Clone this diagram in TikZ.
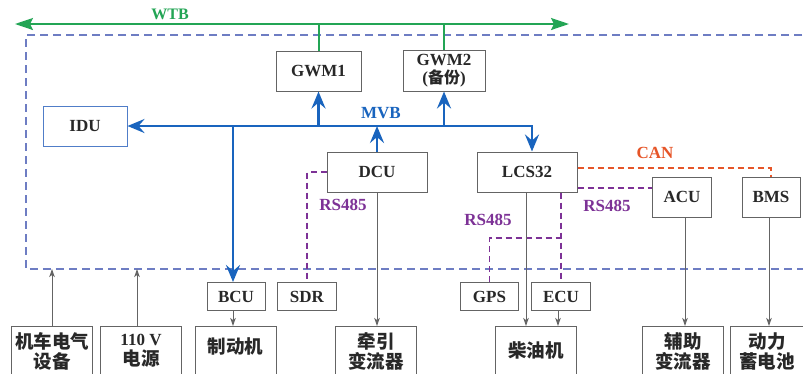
\documentclass[tikz,border=0pt]{standalone}
\usepackage{fontspec}
\setmainfont{Liberation Serif}
\newfontfamily\cjk{Noto Sans CJK SC}
\usetikzlibrary{arrows.meta}
\definecolor{wtbgreen}{RGB}{35,165,85}
\definecolor{mvbblue}{RGB}{25,100,190}
\definecolor{idublue}{RGB}{80,125,200}
\definecolor{frameblue}{RGB}{110,125,195}
\definecolor{canred}{RGB}{230,85,40}
\definecolor{rspurple}{RGB}{125,50,150}
\definecolor{boxgray}{RGB}{100,100,100}
\definecolor{txt}{RGB}{40,40,40}
\begin{document}
\begin{tikzpicture}[x=1pt,y=-1pt,
  box/.style={draw=boxgray,line width=1pt,inner sep=0pt,align=center,text=txt,
    font=\bfseries\fontsize{17}{17.5}\selectfont},
  bot/.style={draw=boxgray,line width=1pt,minimum width=81,minimum height=58,anchor=north,inner sep=0pt},
  zh/.style={align=center,text=txt,inner sep=0pt,font=\cjk\bfseries\fontsize{18.5}{19.5}\selectfont},
  lbl/.style={inner sep=0pt,font=\bfseries\fontsize{17}{17}\selectfont},
  mvb/.style={draw=mvbblue,line width=2.8pt},
  mtip/.tip={Stealth[length=17pt,width=14pt,inset=6pt]},
  wtb/.style={draw=wtbgreen,line width=2pt},
  wtip/.tip={Stealth[length=18pt,width=12pt,inset=3pt]},
  thin/.style={draw=boxgray,line width=1pt},
  ttip/.tip={Stealth[length=8pt,width=5.5pt,inset=2pt]},
  rs/.style={draw=rspurple,line width=1.3pt,dash pattern=on 6pt off 4pt},
  canl/.style={draw=canred,line width=1.3pt,dash pattern=on 6pt off 4pt},
  frame/.style={draw=frameblue,line width=1.2pt,dash pattern=on 8pt off 5pt}
]
\useasboundingbox (0,0) rectangle (803,373);
\clip (0,0) rectangle (803,373);
\fill[white] (0,0) rectangle (803,373);

% frame (right side lies outside the picture)
\draw[frame] (815,35) -- (26,35) -- (26,269) -- (815,269);
\coordinate (frb) at (26,269);

% upper boxes
\node[box,minimum width=85,minimum height=40] (gwm1) at (318.5,71) {GWM1};
\node[box,minimum width=82,minimum height=41] (gwm2) at (444,70.5) {GWM2\\({\cjk\fontsize{16}{16}\selectfont 备份})};
\node[box,draw=idublue,minimum width=84,minimum height=40] (idu) at (85,126) {IDU};
\node[box,minimum width=100,minimum height=40] (dcu) at (377,172) {DCU};
\node[box,minimum width=100,minimum height=40] (lcs) at (527,172) {LCS32};
\node[box,minimum width=59,minimum height=40] (acu) at (682,197) {ACU};
\node[box,minimum width=58,minimum height=40] (bms) at (771,197) {BMS};

% middle small boxes
\node[box,minimum width=58,minimum height=28] (bcu) at (236,296.5) {BCU};
\node[box,minimum width=59,minimum height=28] (sdr) at (307,296.5) {SDR};
\node[box,minimum width=58,minimum height=28] (gps) at (489.5,296.5) {GPS};
\node[box,minimum width=59,minimum height=28] (ecu) at (561,296.5) {ECU};

% bottom boxes
\node[bot] (b1) at (52,326) {};
\node[bot] (b2) at (141,326) {};
\node[bot] (b3) at (235.5,326) {};
\node[bot] (b4) at (376,326) {};
\node[bot] (b5) at (536,326) {};
\node[bot] (b6) at (683,326) {};
\node[bot,minimum width=73] (b7) at (767,326) {};
\node[zh] (t1) at (52,351.5) {机车电气\\设备};
\node[zh] (t2) at (141,350.5) {{\rmfamily\bfseries\fontsize{17}{17}\selectfont 110 V}\\电源};
\node[zh] (t3) at (235.5,346) {制动机};
\node[zh] (t4) at (376,351.5) {牵引\\变流器};
\node[zh] (t5) at (536,350) {柴油机};
\node[zh] (t6) at (683,351.5) {辅助\\变流器};
\node[zh] (t7) at (767,351.5) {动力\\蓄电池};

% WTB
\coordinate (wl) at (15,24);
\coordinate (wr) at (569,24);
\draw[wtb,wtip-wtip] (wl) -- (wr);
\draw[wtb] (gwm1.north) -- (gwm1.north |- wl);
\draw[wtb] (gwm2.north) -- (gwm2.north |- wl);
\node[lbl,text=wtbgreen,font=\bfseries\fontsize{16}{16}\selectfont] (wtbl) at (170,14) {WTB};

% MVB
\draw[mvb,mtip-mtip] (idu.east) -| ([xshift=5pt]lcs.north);
\coordinate (mj) at (233,126);
\draw[mvb,-mtip] (mj) -- (mj |- bcu.north);
\draw[mvb,-mtip] (gwm1.south |- idu.east) -- (gwm1.south);
\draw[mvb,-mtip] (gwm2.south |- idu.east) -- (gwm2.south);
\draw[mvb,-mtip] (dcu.north) -- (dcu.north |- idu.east);
\node[lbl,text=mvbblue] (mvbl) at (381,113) {MVB};

% CAN
\draw[canl] ([yshift=4pt]lcs.east) -| (bms.north);
\node[lbl,text=canred] (canlb) at (655,153) {CAN};

% RS485
\draw[rs] (dcu.west) -| (sdr.north);
\draw[rs] ([yshift=-16pt]lcs.east) -- ([yshift=-16pt]lcs.east -| acu.west);
\draw[rs] (ecu.north |- lcs.south) -- (ecu.north);
\coordinate (rj) at (561,238);
\draw[rs] (gps.north) |- (rj);
\node[lbl,text=rspurple] (rs1) at (343,205) {RS485};
\node[lbl,text=rspurple] (rs2) at (488,220) {RS485};
\node[lbl,text=rspurple] (rs3) at (607,206) {RS485};

% thin arrows
\draw[thin,-ttip] (b1.north) -- (b1.north |- frb);
\draw[thin,-ttip] ([xshift=-4pt]b2.north) -- ([xshift=-4pt]b2.north |- frb);
\draw[thin,-ttip] ([xshift=-3pt]bcu.south) -- ([xshift=-3pt]bcu.south |- b3.north);
\draw[thin,-ttip] (dcu.south) -- (dcu.south |- b4.north);
\draw[thin,-ttip] ([xshift=-1pt]lcs.south) -- ([xshift=-1pt]lcs.south |- b5.north);
\draw[thin,-ttip] ([xshift=-3pt]ecu.south) -- ([xshift=-3pt]ecu.south |- b5.north);
\draw[thin,-ttip] ([xshift=3pt]acu.south) -- ([xshift=3pt]acu.south |- b6.north);
\draw[thin,-ttip] ([xshift=-2pt]bms.south) -- ([xshift=-2pt]bms.south |- b7.north);
\end{tikzpicture}
\end{document}
